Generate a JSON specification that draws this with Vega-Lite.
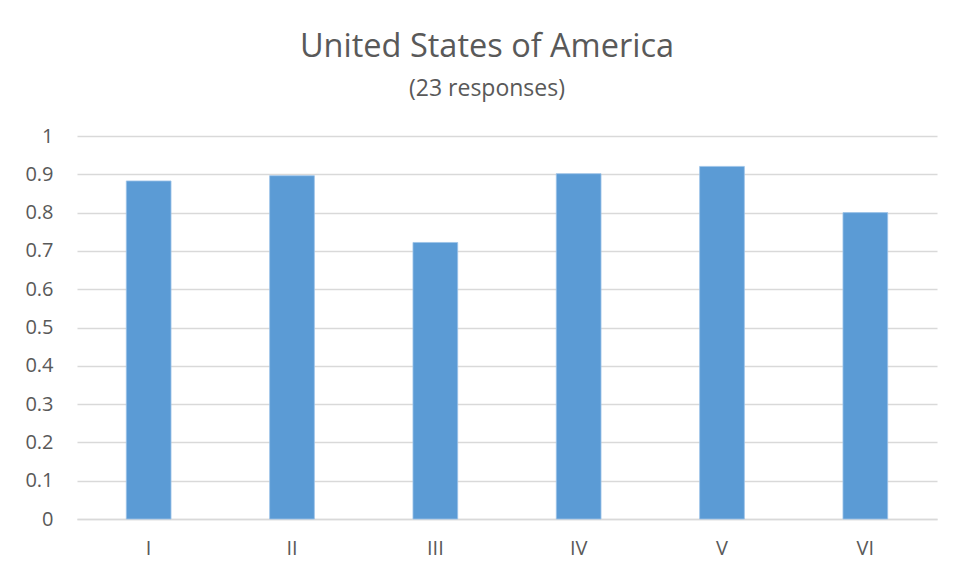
{
  "$schema": "https://vega.github.io/schema/vega-lite/v6.json",
  "width": 860,
  "height": 383,
  "autosize": "none",
  "padding": {"left": 77, "top": 136, "right": 20, "bottom": 59},
  "background": "white",
  "title": {
    "text": "United States of America",
    "subtitle": "(23 responses)",
    "anchor": "middle",
    "dx": -20,
    "offset": 25,
    "font": "Open Sans",
    "fontSize": 32.5,
    "fontWeight": "normal",
    "color": "#595959",
    "subtitleFont": "Open Sans",
    "subtitleFontSize": 23,
    "subtitleColor": "#595959",
    "subtitlePadding": 15
  },
  "data": {
    "values": [
      {"category": "I", "value": 0.8826},
      {"category": "II", "value": 0.8963},
      {"category": "III", "value": 0.722},
      {"category": "IV", "value": 0.9016},
      {"category": "V", "value": 0.9206},
      {"category": "VI", "value": 0.8}
    ]
  },
  "mark": {"type": "bar", "color": "#5B9BD5", "stroke": "#9CC3E8", "strokeWidth": 0.8},
  "encoding": {
    "x": {
      "field": "category",
      "type": "ordinal",
      "sort": null,
      "scale": {"paddingInner": 0.688, "paddingOuter": 0.344},
      "axis": {
        "title": null,
        "labelAngle": 0,
        "ticks": false,
        "domainColor": "#D9D9D9",
        "domainWidth": 1.5,
        "labelFont": "Open Sans",
        "labelFontSize": 20,
        "labelColor": "#595959",
        "labelPadding": 19
      }
    },
    "y": {
      "field": "value",
      "type": "quantitative",
      "scale": {"domain": [0, 1], "nice": false},
      "axis": {
        "title": null,
        "values": [0, 0.1, 0.2, 0.3, 0.4, 0.5, 0.6, 0.7, 0.8, 0.9, 1],
        "format": "~g",
        "domain": false,
        "ticks": false,
        "gridColor": "#D9D9D9",
        "gridWidth": 1.3,
        "labelFont": "Open Sans",
        "labelFontSize": 20,
        "labelColor": "#595959",
        "labelPadding": 24
      }
    }
  },
  "config": {"view": {"stroke": null}}
}
